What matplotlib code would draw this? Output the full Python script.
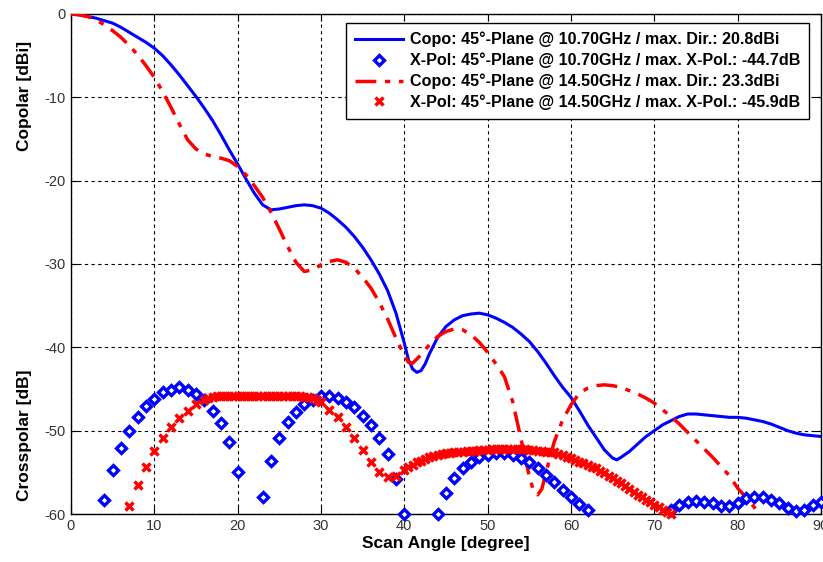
import matplotlib.pyplot as plt
import numpy as np

plt.rcParams['font.family'] = ['Liberation Sans', 'DejaVu Sans']
plt.rcParams['axes.unicode_minus'] = False

# copolar 10.70 GHz (solid blue)
copo_a_x = [0, 1, 2, 3, 4, 5, 6, 7, 8, 9, 10, 11, 12, 13, 14, 15, 16, 17, 18, 19,
            20, 21, 22, 23, 24, 25, 26, 27, 28, 29, 30, 31, 32, 33, 34, 35, 36, 37,
            38, 39, 40, 40.5, 41, 41.5, 42, 42.5, 43, 44, 45, 46, 47, 48, 49, 50,
            51, 52, 53, 54, 55, 56, 57, 58, 59, 60, 61, 62, 63, 64, 65, 65.5, 66,
            67, 68, 69, 70, 71, 72, 73, 74, 75, 76, 77, 78, 79, 80, 81, 82, 83, 84,
            85, 86, 87, 88, 89, 90]
copo_a_y = [0, -0.1, -0.3, -0.5, -0.8, -1.1, -1.6, -2.2, -2.8, -3.4, -4.1, -5.0,
            -6.1, -7.3, -8.6, -9.9, -11.3, -12.8, -14.5, -16.3, -18.0, -19.8, -21.5,
            -22.9, -23.5, -23.4, -23.2, -23.0, -22.9, -23.0, -23.3, -23.9, -24.7,
            -25.6, -26.7, -28.0, -29.5, -31.2, -33.2, -35.9, -39.5, -41.5, -42.6,
            -43.0, -42.8, -42.0, -40.8, -38.8, -37.5, -36.7, -36.2, -36.0, -35.9,
            -36.1, -36.5, -37.0, -37.6, -38.4, -39.3, -40.5, -41.9, -43.4, -44.8,
            -46.0, -47.6, -49.3, -50.8, -52.3, -53.3, -53.5, -53.2, -52.5, -51.6,
            -50.7, -50.0, -49.3, -48.8, -48.3, -48.0, -48.0, -48.1, -48.2, -48.3,
            -48.4, -48.4, -48.5, -48.7, -48.9, -49.2, -49.6, -50.0, -50.3, -50.5,
            -50.6, -50.7]

# copolar 14.50 GHz (red dash-dot)
copo_b_x = [0, 1, 2, 3, 4, 5, 6, 7, 8, 9, 10, 11, 12, 13, 14, 15, 16, 17, 18, 19,
            20, 21, 22, 23, 24, 25, 26, 27, 28, 29, 30, 31, 32, 33, 34, 35, 36, 37,
            38, 39, 40, 40.5, 41, 42, 43, 44, 45, 46, 47, 48, 49, 50, 51, 52, 53,
            54, 55, 55.5, 56, 56.5, 57, 58, 59, 60, 61, 62, 63, 64, 65, 66, 67, 68,
            69, 70, 71, 72, 73, 74, 75, 76, 77, 78, 79, 80, 81, 82, 82.6]
copo_b_y = [0, -0.1, -0.3, -0.7, -1.3, -2.0, -2.8, -3.8, -4.9, -6.2, -7.6, -9.3,
            -11.2, -13.2, -15.1, -16.2, -16.8, -17.1, -17.3, -17.6, -18.3, -19.3,
            -20.6, -22.0, -23.8, -25.8, -27.9, -29.8, -30.9, -30.7, -30.1, -29.7,
            -29.5, -29.8, -30.5, -31.6, -32.9, -34.6, -36.6, -38.9, -41.0, -41.8,
            -41.9, -40.9, -39.7, -38.7, -38.1, -37.8, -37.9, -38.5, -39.4, -40.6,
            -42.0, -43.5, -46.5, -51.0, -55.5, -57.2, -57.7, -57.0, -55.0, -51.3,
            -48.7, -46.9, -45.5, -44.9, -44.6, -44.5, -44.6, -44.8, -45.2, -45.6,
            -46.1, -46.7, -47.5, -48.3, -49.2, -50.2, -51.2, -52.2, -53.2, -54.3,
            -55.4, -56.9, -58.0, -59.2, -60.0]

# crosspolar 10.70 GHz (blue diamonds)
xpol_a_x = [4, 5, 6, 7, 8, 9, 10, 11, 12, 13, 14, 15, 16, 17, 18, 19, 20, 23, 24,
            25, 26, 27, 28, 29, 30, 31, 32, 33, 34, 35, 36, 37, 38, 39, 40, 44, 45,
            46, 47, 48, 49, 50, 51, 52, 53, 54, 55, 56, 57, 58, 59, 60, 61, 62, 72,
            73, 74, 75, 76, 77, 78, 79, 80, 81, 82, 83, 84, 85, 86, 87, 88, 89, 90]
xpol_a_y = [-58.3, -54.7, -52.1, -50.0, -48.3, -47.0, -46.2, -45.4, -45.1, -44.8,
            -45.1, -45.6, -46.3, -47.6, -49.1, -51.4, -55.0, -58.0, -53.6, -50.9,
            -49.0, -47.8, -46.8, -46.3, -45.8, -45.8, -46.1, -46.5, -47.1, -48.2,
            -49.3, -50.9, -52.8, -55.8, -60.0, -60.0, -57.5, -55.7, -54.5, -53.7,
            -53.2, -52.9, -52.7, -52.7, -52.9, -53.3, -53.8, -54.5, -55.3, -56.1,
            -57.1, -57.9, -58.8, -59.5, -59.5, -58.9, -58.6, -58.4, -58.6, -58.7,
            -59.0, -59.0, -58.7, -58.1, -58.0, -57.9, -58.3, -58.7, -59.3, -59.6,
            -59.5, -58.9, -58.6]

# crosspolar 14.50 GHz (red crosses)
xpol_b_x = list(range(7, 16)) + list(np.arange(16, 30, 0.5)) + list(range(30, 40)) \
    + list(np.arange(40, 72.5, 0.5))
xpol_b_y = [-59.0, -56.5, -54.3, -52.4, -50.9, -49.6, -48.5, -47.6, -46.8,
            # 16 .. 29.5
            -46.3, -46.1, -45.9, -45.8, -45.8, -45.8, -45.8, -45.8, -45.8, -45.8,
            -45.8, -45.8, -45.8, -45.8, -45.8, -45.8, -45.8, -45.8, -45.8, -45.8,
            -45.8, -45.8, -45.8, -45.8, -45.9, -46.0, -46.1, -46.3,
            # 30 .. 39
            -46.6, -47.5, -48.4, -49.6, -50.9, -52.3, -53.7, -54.9, -55.5, -55.4,
            # 40 .. 72
            -54.7, -54.4, -54.1, -53.8, -53.6, -53.4, -53.2, -53.0, -52.9, -52.8,
            -52.7, -52.65, -52.6, -52.55, -52.5, -52.45, -52.4, -52.4, -52.35,
            -52.3, -52.3, -52.25, -52.25, -52.2, -52.2, -52.2, -52.2, -52.2,
            -52.2, -52.25, -52.3, -52.35, -52.4, -52.45, -52.5, -52.55, -52.6,
            -52.75, -52.9, -53.1, -53.3, -53.5, -53.7, -53.9, -54.1, -54.3, -54.5,
            -54.8, -55.1, -55.4, -55.7, -56.0, -56.3, -56.65, -57.0, -57.35, -57.7,
            -58.0, -58.3, -58.6, -58.9, -59.2, -59.5, -59.75, -60.0]

labels = ['Copo: 45°-Plane @ 10.70GHz / max. Dir.: 20.8dBi',
          'X-Pol: 45°-Plane @ 10.70GHz / max. X-Pol.: -44.7dB',
          'Copo: 45°-Plane @ 14.50GHz / max. Dir.: 23.3dBi',
          'X-Pol: 45°-Plane @ 14.50GHz / max. X-Pol.: -45.9dB']

fig = plt.figure(figsize=(8.23, 5.62), dpi=100)
ax = fig.add_axes([0.0862, 0.0854, 0.9114, 0.8897])

blue = '#0000ff'
red = '#ff0000'
ax.plot(copo_a_x, copo_a_y, '-', color=blue, lw=2.2, label=labels[0], zorder=3)
ax.plot(xpol_a_x, xpol_a_y, 'D', color=blue, ms=5.5, mfc='white', mew=2.4,
        linestyle='none', label=labels[1], zorder=4, clip_on=False)
ax.plot(copo_b_x, copo_b_y, '-.', color=red, lw=2.5, label=labels[2], zorder=3,
        dashes=(6, 2.5, 1.5, 2.5))
ax.plot(xpol_b_x, xpol_b_y, 'x', color=red, ms=6, mew=2.5, linestyle='none',
        label=labels[3], zorder=4, clip_on=False)

ax.set_xlim(0, 90)
ax.set_ylim(-60, 0)
ax.set_xticks(np.arange(0, 91, 10))
ax.set_yticks(np.arange(-60, 1, 10))
ax.tick_params(direction='in', top=True, right=True, labelsize=10.5,
               labelcolor='#333333', length=5)
ax.grid(True, color='black', linestyle=(0, (3, 3)), lw=0.8)
for s in ax.spines.values():
    s.set_linewidth(1.0)

ax.set_xlabel('Scan Angle [degree]', fontsize=12.5, fontweight='bold', labelpad=2)
fig.text(0.030, 0.83, 'Copolar [dBi]', rotation=90, ha='center', va='center',
         fontsize=12.5, fontweight='bold')
fig.text(0.030, 0.225, 'Crosspolar [dB]', rotation=90, ha='center', va='center',
         fontsize=12.5, fontweight='bold')

leg = ax.legend(loc='upper right', bbox_to_anchor=(0.984, 0.982), fancybox=False,
                edgecolor='black', framealpha=1.0, prop={'weight': 'bold', 'size': 11.6},
                handlelength=3.0, borderpad=0.55, labelspacing=0.33, handletextpad=0.4,
                borderaxespad=0.0)
leg.get_frame().set_linewidth(1.0)

plt.savefig('out.png', dpi=100)
